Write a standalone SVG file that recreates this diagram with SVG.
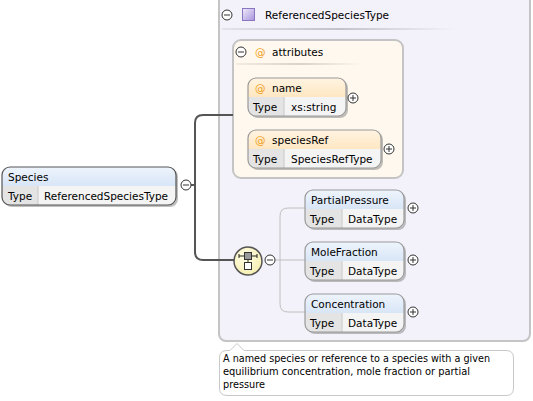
<svg xmlns="http://www.w3.org/2000/svg" width="533" height="401" viewBox="0 0 533 401">
<defs>
<linearGradient id="gBlue" x1="0" y1="0" x2="0" y2="1"><stop offset="0" stop-color="#eef4fc"/><stop offset="1" stop-color="#c2d7f2"/></linearGradient>
<linearGradient id="gOrange" x1="0" y1="0" x2="0" y2="1"><stop offset="0" stop-color="#fff4e2"/><stop offset="1" stop-color="#fdd9a2"/></linearGradient>
<linearGradient id="gPurple" x1="0" y1="0" x2="1" y2="1"><stop offset="0" stop-color="#f0ecfb"/><stop offset="1" stop-color="#a792dc"/></linearGradient>
<linearGradient id="gSep" x1="0" y1="0" x2="1" y2="0"><stop offset="0" stop-color="#e4e2ea"/><stop offset="0.5" stop-color="#c4c2c8"/><stop offset="1" stop-color="#f3f1f9"/></linearGradient>
<linearGradient id="gSep2" x1="0" y1="0" x2="1" y2="0"><stop offset="0" stop-color="#f4ece0"/><stop offset="0.5" stop-color="#d8d2c8"/><stop offset="1" stop-color="#fff8ee"/></linearGradient>
<radialGradient id="gSeq" cx="0.4" cy="0.35" r="0.7"><stop offset="0" stop-color="#fffde6"/><stop offset="1" stop-color="#f6eeb0"/></radialGradient>
</defs>
<style>
text{font-family:"DejaVu Sans","Liberation Sans",sans-serif;font-size:10.5px;fill:#000}
.box{stroke:#555;stroke-width:1.2}
.shadow{fill:#8a8a8a;opacity:0.55}
.tcell{fill:#e4e4e4}
.vcell{fill:#f4f4f4}
.div{stroke:#c8c8c8;stroke-width:1}
.btn{fill:#fff;stroke:#333;stroke-width:1}
.btnl{stroke:#333;stroke-width:1}
.at{fill:#f0a020}
.conn{fill:none;stroke:#555;stroke-width:2}
.conn2{fill:none;stroke:#c0c0c0;stroke-width:1}
.tip{font-size:10px}
</style>

<!-- outer complex type box -->
<g id="referencedSpeciesType">
<rect x="219" y="-10" width="311" height="351" rx="7" fill="#f3f1f9" stroke="#c4c4c4" stroke-width="2"/>
<circle cx="227" cy="15" r="5" class="btn"/><line x1="224" y1="15" x2="230" y2="15" class="btnl"/>
<rect x="242.5" y="8.5" width="12" height="12" fill="url(#gPurple)" stroke="#8a76c0"/>
<text x="265" y="19">ReferencedSpeciesType</text>
<rect x="222" y="28" width="233" height="2" fill="url(#gSep)"/>
</g>

<!-- attributes group -->
<g id="attributes">
<rect x="233" y="40" width="170" height="138" rx="8" fill="#fff8ee" stroke="#c4c4c4" stroke-width="2"/>
<circle cx="241" cy="52" r="5" class="btn"/><line x1="238" y1="52" x2="244" y2="52" class="btnl"/>
<text x="255" y="56" class="at">@</text>
<text x="272" y="56">attributes</text>
<rect x="236" y="63" width="127" height="2" fill="url(#gSep2)"/>
</g>

<g id="connectors">
<path class="conn" d="M191,185 H195 M233,115 H203 Q195,115 195,123 V252 Q195,260 203,260 H235"/>
<path class="conn2" d="M275,260 H305 M305,208 H288 Q280,208 280,216 V304 Q280,312 288,312 H305"/>
</g>

<!-- Species element -->
<g id="species">
<rect x="4" y="169" width="174" height="38" rx="8" class="shadow"/>
<rect x="2" y="167" width="174" height="38" rx="8" fill="url(#gBlue)"/>
<path d="M2,186 H176 V197 Q176,205 168,205 H10 Q2,205 2,197 Z" class="vcell"/>
<path d="M2,186 H38 V205 H10 Q2,205 2,197 Z" class="tcell"/>
<line x1="38" y1="186" x2="38" y2="205" class="div"/>
<rect x="2" y="167" width="174" height="38" rx="8" fill="none" class="box"/>
<text x="8" y="181">Species</text>
<text x="8" y="200">Type</text>
<text x="44" y="200">ReferencedSpeciesType</text>
<circle cx="186" cy="185" r="5" class="btn"/><line x1="183" y1="185" x2="189" y2="185" class="btnl"/>
</g>

<!-- attribute name -->
<g id="attr-name">
<rect x="250" y="80" width="98" height="38" rx="8" class="shadow"/>
<rect x="248" y="78" width="98" height="38" rx="8" fill="url(#gOrange)"/>
<path d="M248,97 H346 V108 Q346,116 338,116 H256 Q248,116 248,108 Z" class="vcell"/>
<path d="M248,97 H284 V116 H256 Q248,116 248,108 Z" class="tcell"/>
<line x1="284" y1="97" x2="284" y2="116" class="div"/>
<rect x="248" y="78" width="98" height="38" rx="8" fill="none" stroke="#9a9a9a" stroke-width="1.2"/>
<text x="255" y="92" class="at">@</text>
<text x="272" y="92">name</text>
<text x="253" y="111">Type</text>
<text x="291" y="111">xs:string</text>
<circle cx="353" cy="98" r="5" class="btn"/><path d="M350,98 H356 M353,95 V101" class="btnl"/>
</g>

<!-- attribute speciesRef -->
<g id="attr-speciesRef">
<rect x="250" y="132" width="133" height="38" rx="8" class="shadow"/>
<rect x="248" y="130" width="133" height="38" rx="8" fill="url(#gOrange)"/>
<path d="M248,149 H381 V160 Q381,168 373,168 H256 Q248,168 248,160 Z" class="vcell"/>
<path d="M248,149 H284 V168 H256 Q248,168 248,160 Z" class="tcell"/>
<line x1="284" y1="149" x2="284" y2="168" class="div"/>
<rect x="248" y="130" width="133" height="38" rx="8" fill="none" stroke="#9a9a9a" stroke-width="1.2"/>
<text x="255" y="144" class="at">@</text>
<text x="272" y="144">speciesRef</text>
<text x="253" y="163">Type</text>
<text x="291" y="163">SpeciesRefType</text>
<circle cx="389" cy="149" r="5" class="btn"/><path d="M386,149 H392 M389,146 V152" class="btnl"/>
</g>

<!-- sequence compositor -->
<g id="sequence">
<ellipse cx="248" cy="261" rx="14" ry="14" fill="url(#gSeq)" stroke="#555" stroke-width="1.5"/>
<line x1="239" y1="256" x2="257" y2="256" stroke="#222" stroke-width="1"/>
<line x1="239" y1="254" x2="239" y2="258" stroke="#222" stroke-width="1"/>
<line x1="257" y1="254" x2="257" y2="258" stroke="#222" stroke-width="1"/>
<rect x="244.5" y="252.5" width="7" height="7" fill="#999" stroke="#333"/>
<line x1="248" y1="259.5" x2="248" y2="262" stroke="#333"/>
<rect x="244.5" y="262.5" width="7" height="7" fill="#fff" stroke="#333"/>
<circle cx="270" cy="260" r="5" class="btn"/><line x1="267" y1="260" x2="273" y2="260" class="btnl"/>
</g>

<!-- PartialPressure -->
<g id="partialPressure">
<rect x="307" y="192" width="99" height="38" rx="8" class="shadow"/>
<rect x="305" y="190" width="99" height="38" rx="8" fill="url(#gBlue)"/>
<path d="M305,209 H404 V220 Q404,228 396,228 H313 Q305,228 305,220 Z" class="vcell"/>
<path d="M305,209 H342 V228 H313 Q305,228 305,220 Z" class="tcell"/>
<line x1="342" y1="209" x2="342" y2="228" class="div"/>
<rect x="305" y="190" width="99" height="38" rx="8" fill="none" stroke="#9a9a9a" stroke-width="1.2"/>
<text x="311" y="204">PartialPressure</text>
<text x="310" y="223">Type</text>
<text x="348" y="223">DataType</text>
<circle cx="413" cy="208" r="5" class="btn"/><path d="M410,208 H416 M413,205 V211" class="btnl"/>
</g>

<!-- MoleFraction -->
<g id="moleFraction">
<rect x="307" y="244" width="99" height="38" rx="8" class="shadow"/>
<rect x="305" y="242" width="99" height="38" rx="8" fill="url(#gBlue)"/>
<path d="M305,261 H404 V272 Q404,280 396,280 H313 Q305,280 305,272 Z" class="vcell"/>
<path d="M305,261 H342 V280 H313 Q305,280 305,272 Z" class="tcell"/>
<line x1="342" y1="261" x2="342" y2="280" class="div"/>
<rect x="305" y="242" width="99" height="38" rx="8" fill="none" stroke="#9a9a9a" stroke-width="1.2"/>
<text x="311" y="256">MoleFraction</text>
<text x="310" y="275">Type</text>
<text x="348" y="275">DataType</text>
<circle cx="413" cy="260" r="5" class="btn"/><path d="M410,260 H416 M413,257 V263" class="btnl"/>
</g>

<!-- Concentration -->
<g id="concentration">
<rect x="307" y="296" width="99" height="38" rx="8" class="shadow"/>
<rect x="305" y="294" width="99" height="38" rx="8" fill="url(#gBlue)"/>
<path d="M305,313 H404 V324 Q404,332 396,332 H313 Q305,332 305,324 Z" class="vcell"/>
<path d="M305,313 H342 V332 H313 Q305,332 305,324 Z" class="tcell"/>
<line x1="342" y1="313" x2="342" y2="332" class="div"/>
<rect x="305" y="294" width="99" height="38" rx="8" fill="none" stroke="#9a9a9a" stroke-width="1.2"/>
<text x="311" y="308">Concentration</text>
<text x="310" y="327">Type</text>
<text x="348" y="327">DataType</text>
<circle cx="413" cy="312" r="5" class="btn"/><path d="M410,312 H416 M413,309 V315" class="btnl"/>
</g>

<!-- documentation tooltip -->
<g id="documentation">
<path d="M227,350.5 H230 L237,343.5 L244,350.5 H506 Q513.5,350.5 513.5,358 V388 Q513.5,395.5 506,395.5 H227 Q219.5,395.5 219.5,388 V358 Q219.5,350.5 227,350.5 Z" fill="#fff" stroke="#c8c8c8"/>
<text x="223" y="362" class="tip" textLength="267" lengthAdjust="spacingAndGlyphs">A named species or reference to a species with a given</text>
<text x="223" y="375" class="tip" textLength="247" lengthAdjust="spacingAndGlyphs">equilibrium concentration, mole fraction or partial</text>
<text x="223" y="388" class="tip" textLength="42" lengthAdjust="spacingAndGlyphs">pressure</text>
</g>
</svg>
